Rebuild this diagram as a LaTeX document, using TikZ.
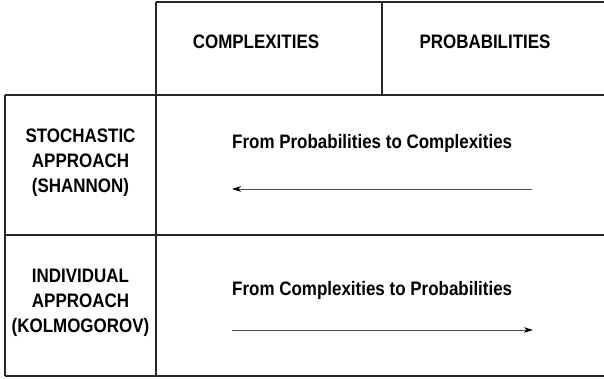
\documentclass[tikz,border=0pt]{standalone}
\usepackage{fontspec}
\setmainfont{Liberation Sans}[FakeStretch=0.87]
\usetikzlibrary{positioning}
\usetikzlibrary{arrows.meta}
\tikzset{lbl/.style={font=\bfseries\fontsize{19.5}{24.8}\selectfont,inner sep=0pt}}
\tikzset{rule/.style={line width=1.3pt,draw=black!85}}
\tikzset{flow/.style={->,line width=0.9pt,draw=black!70}}
\tikzset{>={Stealth[length=9pt,width=5.5pt,inset=2.5pt,black]}}

\begin{document}
\begin{tikzpicture}[x=1pt,y=-1pt]
        \useasboundingbox (0,0) rectangle (604,379);

        % table rules
        \draw[rule] (156,2) -- (604,2);
        \draw[rule] (5,95) -- (604,95);
        \draw[rule] (5,235) -- (604,235);
        \draw[rule] (5,376) -- (604,376);
        \draw[rule] (5,95) -- (5,376);
        \draw[rule] (156,2) -- (156,376);
        \draw[rule] (382,2) -- (382,95);

        % column heads
        \node[lbl,anchor=base] (cplx) at (256,49) {COMPLEXITIES};
        \node[lbl,anchor=base] (prob) at (485,49) {PROBABILITIES};

        % row heads
        \node[lbl,align=center] (shan) at (80.5,162.5) {STOCHASTIC\\APPROACH\\(SHANNON)};
        \node[lbl,align=center] (kolm) at (80.5,303) {INDIVIDUAL\\APPROACH\\(KOLMOGOROV)};

        % cells
        \node[lbl,anchor=base west] (p2c) at (232,149) {From Probabilities to Complexities};
        \node[lbl,anchor=base west] (c2p) at (232,295) {From Complexities to Probabilities};

        \coordinate (p2cR) at (532,189);
        \coordinate (p2cL) at (232,189);
        \coordinate (c2pL) at (232,330);
        \coordinate (c2pR) at (533,330);

        \draw[flow] (p2cR) -- (p2cL);
        \draw[flow] (c2pL) -- (c2pR);
    \end{tikzpicture}
\end{document}
